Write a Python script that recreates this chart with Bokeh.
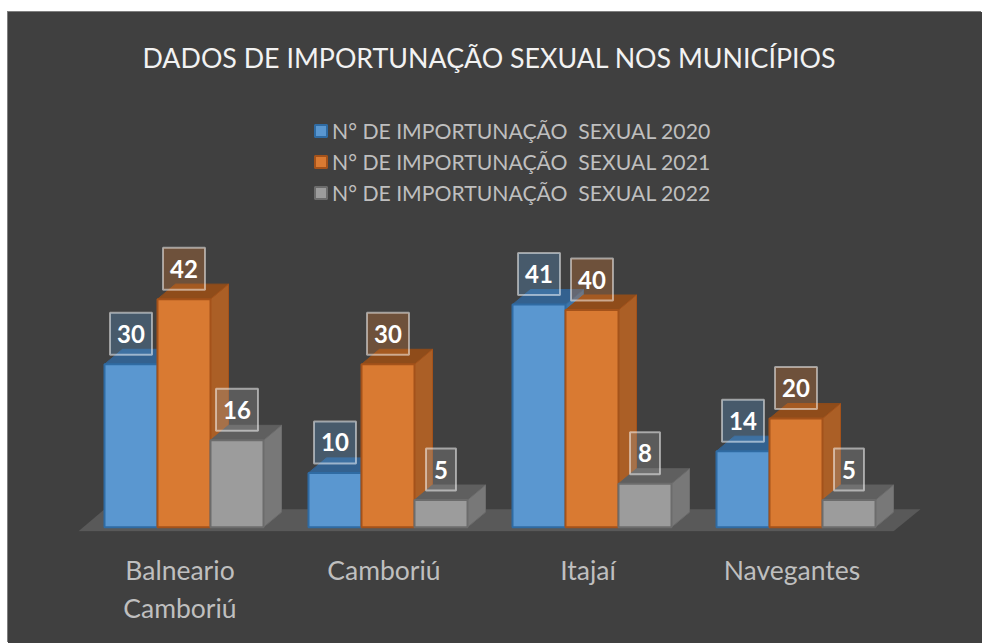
from bokeh.plotting import figure
from bokeh.embed import file_html
from bokeh.resources import INLINE
from bokeh.models import Range1d, Legend, LegendItem, FixedTicker
from bokeh.core.properties import value

municipios = ["Balneario\nCamboriú", "Camboriú", "Itajaí", "Navegantes"]
v2020 = [30, 10, 41, 14]
v2021 = [42, 30, 40, 20]
v2022 = [16, 5, 8, 5]
series_names = ["N° DE IMPORTUNAÇÃO  SEXUAL 2020", "N° DE IMPORTUNAÇÃO  SEXUAL 2021", "N° DE IMPORTUNAÇÃO  SEXUAL 2022"]
title_text = "DADOS DE IMPORTUNAÇÃO SEXUAL NOS MUNICÍPIOS"

front = ["#5a97d0", "#d97a32", "#9c9c9c"]
side = ["#3f74a6", "#ab5f26", "#787878"]
top = ["#33618f", "#8f4c1a", "#5f5f5f"]
edge = ["#2f6ba3", "#a4521a", "#6c6c6c"]
BG = "#404040"
FONT = "Lato"

PX = 204.0     # pixels per group
PY = 5.43      # pixels per unit
BW = 53 / PX
DX = 18 / PX
DY = 15 / PY
FH = 443

p = figure(width=974, height=631, frame_width=974, frame_height=FH,
           output_backend="svg", toolbar_location=None,
           x_range=Range1d(1 - 175.5 / PX, 1 + 798.5 / PX),
           y_range=Range1d(-4.3 / PY, (FH - 4.3) / PY),
           background_fill_color=BG, border_fill_color=BG,
           outline_line_color=None, y_axis_location=None,
           min_border=0, min_border_top=76, min_border_bottom=112,
           margin=(12, 0, 0, 8),
           styles={"background-color": BG, "box-shadow": "-1px -1px 0 0 #7f7f7f"})

p.title.text = title_text
p.title.align = "left"
p.title.offset = 134
p.title.text_font = FONT
p.title.text_font_style = "normal"
p.title.text_font_size = "26.8px"
p.title.text_color = "#f2f2f2"
p.title.standoff = 30
p.grid.visible = False

# floor
p.patch([1 - 1.5 * BW - 26 / PX, 1 - 1.5 * BW, 4 + 1.5 * BW + 45 / PX, 4 + 1.5 * BW + 18 / PX],
        [-4 / PY, 18 / PY, 18 / PY, -4 / PY], fill_color="#595959", line_color=None)

renderers = []
for i, vals in enumerate([v2020, v2021, v2022]):
    lefts = [g + 1 - 1.5 * BW + i * BW for g in range(4)]
    rights = [l + BW for l in lefts]
    # top faces
    p.patches([[l, l + DX, r + DX, r] for l, r in zip(lefts, rights)],
              [[v, v + DY, v + DY, v] for v in vals],
              fill_color=top[i], line_color=top[i], line_width=1)
    # side faces
    p.patches([[r, r + DX, r + DX, r] for r in rights],
              [[0, DY, v + DY, v] for v in vals],
              fill_color=side[i], line_color=edge[i], line_width=1)
    q = p.quad(left=lefts, right=rights, bottom=[0] * 4, top=vals,
               fill_color=front[i], line_color=edge[i], line_width=2)
    renderers.append(q)

# data labels
for i, vals in enumerate([v2020, v2021, v2022]):
    xs = [g + 1 - BW + i * BW for g in range(4)]
    ys = [v + 30.5 / PY for v in vals]
    src = dict(x=xs, y=ys, w=[42 if v >= 10 else 30 for v in vals], t=[str(v) for v in vals])
    p.rect("x", "y", width="w", height=42, width_units="screen", height_units="screen", source=src,
           fill_color=front[i], fill_alpha=0.3, line_color="white", line_alpha=0.5, line_width=2)
    p.text("x", "y", text="t", text_align="center", text_baseline="middle", source=src,
           text_color="white", text_font=value(FONT), text_font_style="bold", text_font_size="24px")

legend = Legend(items=[LegendItem(label=n, renderers=[r]) for n, r in zip(series_names, renderers)],
                location=(305, 325), orientation="vertical", background_fill_alpha=0, border_line_color=None,
                label_text_color="#bfbfbf", label_text_font=FONT, label_text_font_size="21.2px",
                glyph_width=15, glyph_height=15, label_standoff=4, spacing=4, padding=0, margin=0,
                label_height=27)
p.add_layout(legend, "center")

tick_pos = [g + 1 - 4 / PX for g in range(4)]
ax = p.xaxis[0]
ax.ticker = FixedTicker(ticks=tick_pos)
ax.major_label_overrides = {t: m for t, m in zip(tick_pos, municipios)}
ax.axis_line_color = None
ax.major_tick_line_color = None
ax.minor_tick_line_color = None
ax.major_label_text_color = "#bfbfbf"
ax.major_label_text_font = FONT
ax.major_label_text_font_size = "26.5px"
ax.major_label_standoff = 16

open("out.html", "w").write(file_html(p, INLINE))
